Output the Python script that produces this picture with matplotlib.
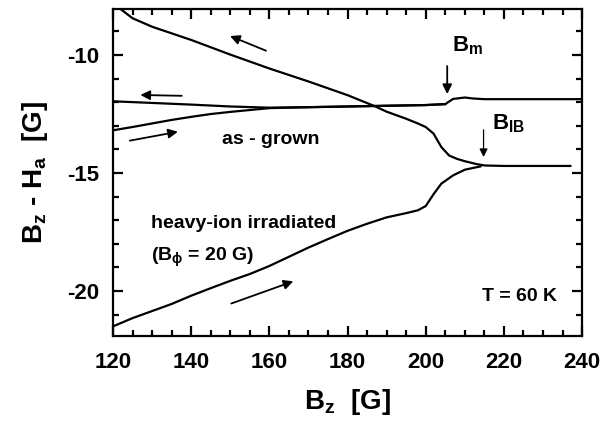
import numpy as np
import matplotlib
matplotlib.use("Agg")
import matplotlib.pyplot as plt
from matplotlib.ticker import MultipleLocator

plt.rcParams['font.family'] = ['Liberation Sans', 'DejaVu Sans']
plt.rcParams['font.weight'] = 'bold'
plt.rcParams['axes.labelweight'] = 'bold'
plt.rcParams['axes.unicode_minus'] = False
plt.rcParams['mathtext.fontset'] = 'custom'
plt.rcParams['mathtext.rm'] = 'Liberation Sans:bold'
plt.rcParams['mathtext.it'] = 'Liberation Sans:bold'
plt.rcParams['mathtext.bf'] = 'Liberation Sans:bold'

# --- 數據 ---
# heavy-ion irradiated, 降場 (從高場往低場)
irr_down_x = [237, 230, 220, 215, 213, 210, 208, 206, 204, 202, 200, 198, 195, 190,
              187, 180, 170, 160, 150, 140, 130, 125, 122]
irr_down_y = [-14.70, -14.70, -14.70, -14.68, -14.62, -14.50, -14.40, -14.26, -13.90,
              -13.33, -13.05, -12.90, -12.70, -12.40, -12.17, -11.70, -11.12, -10.57,
              -9.98, -9.36, -8.80, -8.44, -8.06]
# heavy-ion irradiated, 升場
irr_up_x = [120, 125, 130, 135, 140, 145, 150, 155, 160, 165, 170, 175, 180, 185,
            190, 195, 198, 200, 202, 204, 207, 210, 214]
irr_up_y = [-21.50, -21.15, -20.85, -20.55, -20.20, -19.88, -19.57, -19.28, -18.94,
            -18.55, -18.16, -17.80, -17.45, -17.15, -16.88, -16.70, -16.58, -16.40,
            -15.90, -15.45, -15.10, -14.86, -14.72]
# as-grown, 降場
ag_down_x = [240, 230, 220, 215, 212, 210, 207, 205, 200, 190, 180, 170, 160, 150,
             140, 130, 120]
ag_down_y = [-11.87, -11.87, -11.87, -11.87, -11.84, -11.80, -11.86, -12.08, -12.12,
             -12.15, -12.18, -12.21, -12.23, -12.18, -12.10, -12.03, -11.96]
# as-grown, 升場
ag_up_x = [120, 125, 130, 135, 140, 145, 150, 155, 160, 170, 180, 190, 200, 205]
ag_up_y = [-13.19, -13.05, -12.90, -12.75, -12.62, -12.50, -12.41, -12.33, -12.25,
           -12.21, -12.18, -12.15, -12.12, -12.08]

fig, ax = plt.subplots(figsize=(6.14, 4.30), dpi=100)
fig.subplots_adjust(left=0.184, right=0.948, bottom=0.219, top=0.979)

for xs, ys in [(irr_down_x, irr_down_y), (irr_up_x, irr_up_y),
               (ag_down_x, ag_down_y), (ag_up_x, ag_up_y)]:
    ax.plot(xs, ys, color='black', lw=1.6)

ax.set_xlim(120, 240)
ax.set_ylim(-21.9, -8.05)
ax.xaxis.set_major_locator(MultipleLocator(20))
ax.xaxis.set_minor_locator(MultipleLocator(5))
ax.yaxis.set_major_locator(MultipleLocator(5))
ax.yaxis.set_minor_locator(MultipleLocator(1))
ax.tick_params(which='both', direction='in', top=True, right=True, width=1.6)
ax.tick_params(which='major', length=7, labelsize=16)
ax.tick_params(axis='x', which='major', pad=12)
ax.tick_params(axis='y', which='major', pad=10)
ax.tick_params(which='minor', length=4)
for s in ax.spines.values():
    s.set_linewidth(1.6)

ax.set_xlabel(r'$\mathregular{B_z}$  [G]', fontsize=20, labelpad=10)
ax.set_ylabel(r'$\mathregular{B_z}$ - $\mathregular{H_a}$  [G]', fontsize=20, labelpad=12)

# --- 箭頭 ---
arrow_kw = dict(arrowstyle='-|>', color='black', lw=1.3, mutation_scale=14)
ax.annotate('', xy=(149.3, -9.15), xytext=(159.8, -9.86), arrowprops=arrow_kw)
ax.annotate('', xy=(126.3, -11.69), xytext=(138.3, -11.73), arrowprops=arrow_kw)
ax.annotate('', xy=(137.3, -13.23), xytext=(123.6, -13.65), arrowprops=arrow_kw)
ax.annotate('', xy=(166.8, -19.55), xytext=(149.6, -20.57), arrowprops=arrow_kw)
ax.annotate('', xy=(205.5, -11.77), xytext=(205.5, -10.35), arrowprops=arrow_kw)
ax.annotate('', xy=(214.8, -14.44), xytext=(214.8, -13.05),
            arrowprops=dict(arrowstyle='-|>', color='black', lw=0.9, mutation_scale=12))

# --- 文字 ---
ax.text(206.8, -9.6, r'$\mathregular{B_m}$', fontsize=16, va='center', ha='left')
ax.text(217.0, -12.9, r'$\mathregular{B_{IB}}$', fontsize=16, va='center', ha='left')
ax.text(160.3, -13.6, 'as - grown', fontsize=14, va='center', ha='center')
ax.text(129.8, -17.16, 'heavy-ion irradiated', fontsize=14, va='center', ha='left')
ax.text(129.8, -18.58, r'($\mathregular{B_\phi}$ = 20 G)', fontsize=14, va='center', ha='left')
ax.text(214.3, -20.24, 'T = 60 K', fontsize=14, va='center', ha='left')

fig.savefig('out.png', dpi=100)
